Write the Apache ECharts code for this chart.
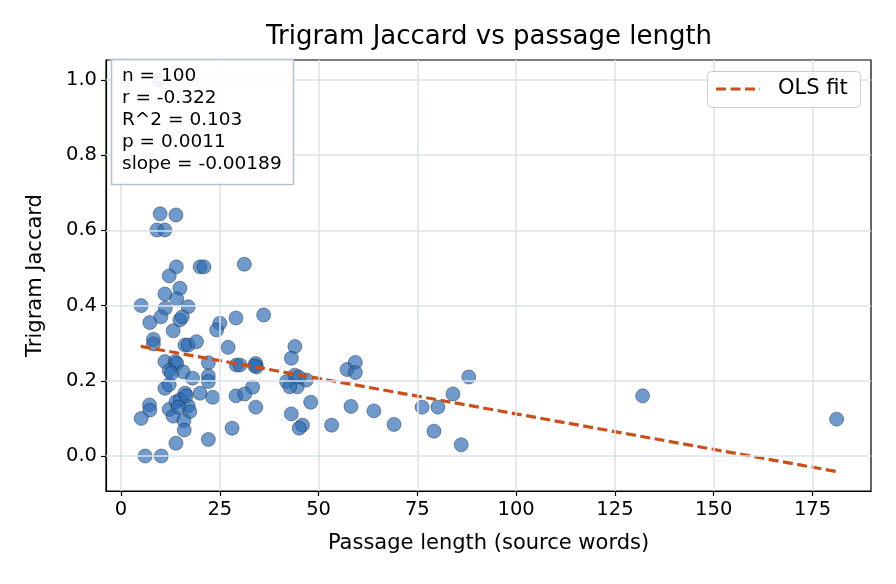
<!DOCTYPE html>
<html>
<head>
<meta charset="utf-8">
<script src="https://cdn.jsdelivr.net/npm/echarts@6/dist/echarts.min.js"></script>
<style>
  html, body { margin: 0; padding: 0; background: #fff; }
  #chart { width: 896px; height: 584px; }
</style>
</head>
<body>
<div id="chart"></div>
<script>
// passage length (source words) and trigram jaccard
var passageWords = [9.9, 13.9, 9.1, 11.1, 14, 20, 21, 31.2, 12.2, 14.9,
    11.1, 14.1, 5.1, 17, 11.2, 36.1, 29.1, 7.3, 10.1, 14.9,
    15.5, 13.2, 25, 24.2, 8.2, 8.2, 16.2, 17, 19.1, 27.1,
    22.1, 11.1, 13.7, 14.1, 12.2, 15.7, 18.1, 22.1, 22.1, 29.2,
    30.1, 34.1, 34.3, 33.3, 11.1, 12.2, 20, 16.2, 23.2, 29.1,
    31.3, 34.1, 7.2, 7.3, 5.1, 12.2, 13.9, 17, 13.2, 17.4,
    15.9, 16, 13.9, 22.1, 28.1, 6.1, 10.2, 44, 43.1, 41.9,
    44, 44.6, 46.9, 42.7, 48, 43.1, 45.9, 45.1, 53.3, 57.2,
    59.3, 59.3, 58.2, 64, 69.1, 76.2, 80.2, 84, 88, 79.2,
    86.1, 132, 181.1, 9.5, 15, 14.5, 16.5, 12.8, 45, 33.8];
var jaccard = [0.644, 0.641, 0.601, 0.601, 0.503, 0.503, 0.503, 0.51, 0.479, 0.446,
    0.431, 0.418, 0.4, 0.397, 0.393, 0.375, 0.367, 0.355, 0.37, 0.362,
    0.37, 0.333, 0.353, 0.335, 0.31, 0.298, 0.295, 0.295, 0.304, 0.289,
    0.248, 0.251, 0.251, 0.246, 0.227, 0.224, 0.207, 0.213, 0.198, 0.242,
    0.242, 0.246, 0.237, 0.183, 0.18, 0.19, 0.167, 0.167, 0.156, 0.16,
    0.165, 0.13, 0.136, 0.122, 0.1, 0.124, 0.144, 0.133, 0.106, 0.118,
    0.094, 0.069, 0.034, 0.044, 0.074, 0, 0, 0.291, 0.26, 0.198,
    0.215, 0.184, 0.202, 0.184, 0.143, 0.112, 0.082, 0.074, 0.082, 0.23,
    0.249, 0.222, 0.132, 0.12, 0.084, 0.13, 0.13, 0.165, 0.21, 0.066,
    0.03, 0.16, 0.098, 1.0, 0.15, 0.13, 0.16, 0.22, 0.21, 0.24];

// OLS fit end points
var fitX = [5, 181];
var fitY = [0.2915, -0.041];

var xTicks = [0, 25, 50, 75, 100, 125, 150, 175];
var yTicks = [0, 0.2, 0.4, 0.6, 0.8, 1.0];

var statLines = ['n = 100', 'r = -0.322', 'R^2 = 0.103', 'p = 0.0011', 'slope = -0.00189'];

var FONT = 'DejaVu Sans';
var FIT_COLOR = '#c94f1c';

var points = [];
for (var i = 0; i < passageWords.length; i++) {
    points.push([passageWords[i], jaccard[i]]);
}
var fitLine = [];
for (var j = 0; j < fitX.length; j++) {
    fitLine.push([fitX[j], fitY[j]]);
}

// grid lines as mark lines, so ticks sit on round values
var gridMarks = [];
xTicks.forEach(function (v) { gridMarks.push({ xAxis: v }); });
yTicks.forEach(function (v) { gridMarks.push({ yAxis: v }); });

var myChart = echarts.init(document.getElementById('chart'));

var option = {
    animation: false,
    textStyle: { fontFamily: FONT },
    grid: {
        left: 106, right: 25, top: 60, bottom: 93,
        show: true, borderColor: '#000', borderWidth: 1.2
    },
    xAxis: {
        type: 'value', min: -3.8, max: 189.8,
        name: 'Passage length (source words)',
        nameLocation: 'middle', nameGap: 42,
        nameTextStyle: { fontFamily: FONT, fontSize: 21, color: '#000' },
        axisLine: { show: true, onZero: false, lineStyle: { color: '#000', width: 1.2 } },
        axisTick: { show: true, length: 5, lineStyle: { color: '#000', width: 1.2 }, customValues: xTicks },
        axisLabel: { fontFamily: FONT, fontSize: 19.5, color: '#000', margin: 9, customValues: xTicks,
            formatter: function (v) { return String(v); } },
        splitLine: { show: false }
    },
    yAxis: {
        type: 'value', min: -0.093, max: 1.053,
        name: 'Trigram Jaccard',
        nameLocation: 'middle', nameGap: 60,
        nameTextStyle: { fontFamily: FONT, fontSize: 21, color: '#000' },
        axisLine: { show: true, onZero: false, lineStyle: { color: '#000', width: 1.2 } },
        axisTick: { show: true, length: 5, lineStyle: { color: '#000', width: 1.2 }, customValues: yTicks },
        axisLabel: { fontFamily: FONT, fontSize: 19.5, color: '#000', margin: 9, customValues: yTicks,
            formatter: function (v) { return v.toFixed(1); } },
        splitLine: { show: false }
    },
    series: [
        {
            name: 'grid',
            type: 'scatter',
            data: [],
            z: 1,
            silent: true,
            markLine: {
                silent: true,
                symbol: 'none',
                label: { show: false },
                lineStyle: { color: '#dde3ec', width: 1.5, type: 'solid' },
                data: gridMarks
            }
        },
        {
            name: 'passages',
            type: 'scatter',
            data: points,
            symbolSize: 14,
            z: 3,
            itemStyle: {
                color: 'rgba(44,107,179,0.85)',
                borderColor: 'rgba(20,35,60,0.9)',
                borderWidth: 0.6
            }
        },
        {
            name: 'OLS fit',
            type: 'line',
            data: fitLine,
            symbol: 'none',
            z: 4,
            lineStyle: { color: FIT_COLOR, width: 3.2, type: [10, 4.5] }
        }
    ],
    graphic: [
        {
            type: 'text',
            x: 489, y: 37,
            style: {
                text: 'Trigram Jaccard vs passage length',
                font: '26px "DejaVu Sans"',
                fill: '#000',
                align: 'center',
                verticalAlign: 'middle'
            }
        },
        // stats box
        {
            type: 'rect',
            shape: { x: 111.5, y: 59.5, width: 182, height: 125 },
            style: { fill: 'rgba(255,255,255,0.9)', stroke: '#b5c1d0', lineWidth: 1.6 },
            z: 100
        },
        {
            type: 'text',
            x: 122, y: 65,
            z: 101,
            style: {
                text: statLines.join('\n'),
                font: '18.5px "DejaVu Sans"',
                lineHeight: 22,
                fill: '#000'
            }
        },
        // legend
        {
            type: 'rect',
            shape: { x: 707.5, y: 71.5, width: 153, height: 36, r: 4 },
            style: { fill: 'rgba(255,255,255,0.9)', stroke: '#cccccc', lineWidth: 1 },
            z: 100
        },
        {
            type: 'line',
            shape: { x1: 716, y1: 89, x2: 760, y2: 89 },
            style: { stroke: FIT_COLOR, lineWidth: 3.2, lineDash: [10, 4.5] },
            z: 101
        },
        {
            type: 'text',
            x: 778, y: 89,
            z: 101,
            style: {
                text: 'OLS fit',
                font: '21px "DejaVu Sans"',
                fill: '#000',
                verticalAlign: 'middle'
            }
        }
    ]
};

myChart.setOption(option);
</script>
</body>
</html>
